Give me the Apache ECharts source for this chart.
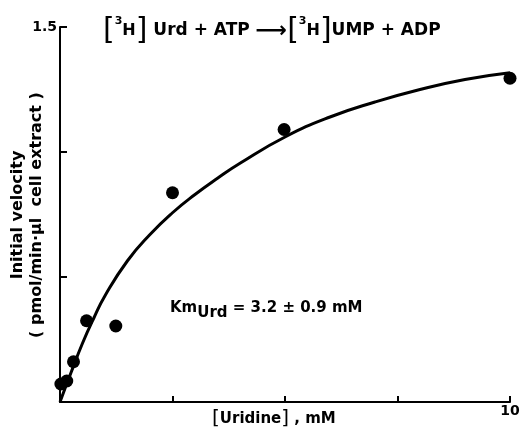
<!DOCTYPE html>
<html><head><meta charset="utf-8">
<script src="https://cdn.jsdelivr.net/npm/echarts@6/dist/echarts.min.js"></script>
<style>html,body{margin:0;padding:0;background:#fff}#c{width:526px;height:433px}</style>
</head><body><div id="c"></div>
<script>
// measured points
const pointX = [0.02, 0.15, 0.30, 0.59, 1.24, 2.50, 4.98, 10.0];
const pointY = [0.072, 0.084, 0.161, 0.325, 0.304, 0.837, 1.09, 1.295];
// fitted curve
const curveX = [0, 0.25, 0.5, 0.75, 1.0, 1.5, 2.0, 2.5, 3.0, 3.5, 4.0, 5.0, 6.0, 7.0, 8.0, 9.0, 10.0];
const curveY = [0, 0.12, 0.235, 0.335, 0.425, 0.565, 0.67, 0.757, 0.83, 0.895, 0.955, 1.06, 1.14, 1.2, 1.25, 1.29, 1.317];
const xTickLabels = {10: '10'};
const yTickLabels = {1.5: '1.5'};

const FONT = 'DejaVu Sans';
const chart = echarts.init(document.getElementById('c'));
chart.setOption({
  animation: false,
  backgroundColor: '#fff',
  grid: {left: 60, right: 16, top: 27, bottom: 31, containLabel: false, outerBoundsMode: 'none'},
  xAxis: {
    type: 'value', min: 0, max: 10, interval: 2.5,
    axisLine: {lineStyle: {color: '#000', width: 2}},
    axisTick: {inside: true, length: 6, lineStyle: {color: '#000', width: 2}},
    splitLine: {show: false},
    axisLabel: {formatter: v => xTickLabels[v] || '', color: '#000', fontFamily: FONT, fontWeight: 'bold', fontSize: 14, margin: 2, showMaxLabel: true}
  },
  yAxis: {
    type: 'value', min: 0, max: 1.5, interval: 0.5,
    axisLine: {lineStyle: {color: '#000', width: 2}},
    axisTick: {inside: true, length: 7, lineStyle: {color: '#000', width: 2}},
    splitLine: {show: false},
    axisLabel: {formatter: v => yTickLabels[v] || '', color: '#000', fontFamily: FONT, fontWeight: 'bold', fontSize: 14, margin: 3, showMaxLabel: true}
  },
  series: [
    {type: 'line', data: curveX.map((x, i) => [x, curveY[i]]), smooth: 0.5, symbol: 'none',
     lineStyle: {color: '#000', width: 3}, z: 2},
    {type: 'scatter', data: pointX.map((x, i) => [x, pointY[i]]), symbol: 'circle', symbolSize: 13,
     itemStyle: {color: '#000', opacity: 1}, z: 3}
  ],
  graphic: [
    {type: 'text', x: 27, y: 215, rotation: Math.PI / 2, style: {
      text: 'Initial velocity\n( pmol/min·µl  cell extract )',
      align: 'center', verticalAlign: 'middle', lineHeight: 19,
      fontSize: 16, fontFamily: FONT, fontWeight: 'bold', fill: '#000'
    }},
    {type: 'text', left: 103, top: 16, style: {
      text: '{b|[}{s|3}{h|H}{b|]} Urd + ATP {a|⟶}{b|[}{s|3}{h|H}{b|]}UMP + ADP',
      rich: {
        b: {fontSize: 30, fontFamily: FONT, fontWeight: 'normal', fill: '#000', verticalAlign: 'middle'},
        s: {fontSize: 11, fontFamily: FONT, fontWeight: 'bold', fill: '#000', verticalAlign: 'top', padding: [0,0,10,0]},
        h: {fontSize: 16, fontFamily: FONT, fontWeight: 'bold', fill: '#000'},
        a: {fontSize: 22, fontFamily: FONT, fontWeight: 'bold', fill: '#000'}
      },
      fontSize: 17, fontFamily: FONT, fontWeight: 'bold', fill: '#000'
    }},
    {type: 'text', left: 212, top: 409, style: {
      text: '{b|[}Uridine{b|]} , mM',
      rich: {b: {fontSize: 20, fontFamily: FONT, fontWeight: 'normal', fill: '#000'}},
      fontSize: 15, fontFamily: FONT, fontWeight: 'bold', fill: '#000'
    }},
    {type: 'text', left: 170, top: 301, style: {
      text: '{k|Km}{u|Urd} = 3.2 ± 0.9 mM',
      rich: {
        k: {fontSize: 15, fontFamily: FONT, fontWeight: 'bold', fill: '#000'},
        u: {fontSize: 15, fontFamily: FONT, fontWeight: 'bold', fill: '#000', padding: [9,0,0,0]}
      },
      fontSize: 15, fontFamily: FONT, fontWeight: 'bold', fill: '#000'
    }}
  ]
});
</script></body></html>
